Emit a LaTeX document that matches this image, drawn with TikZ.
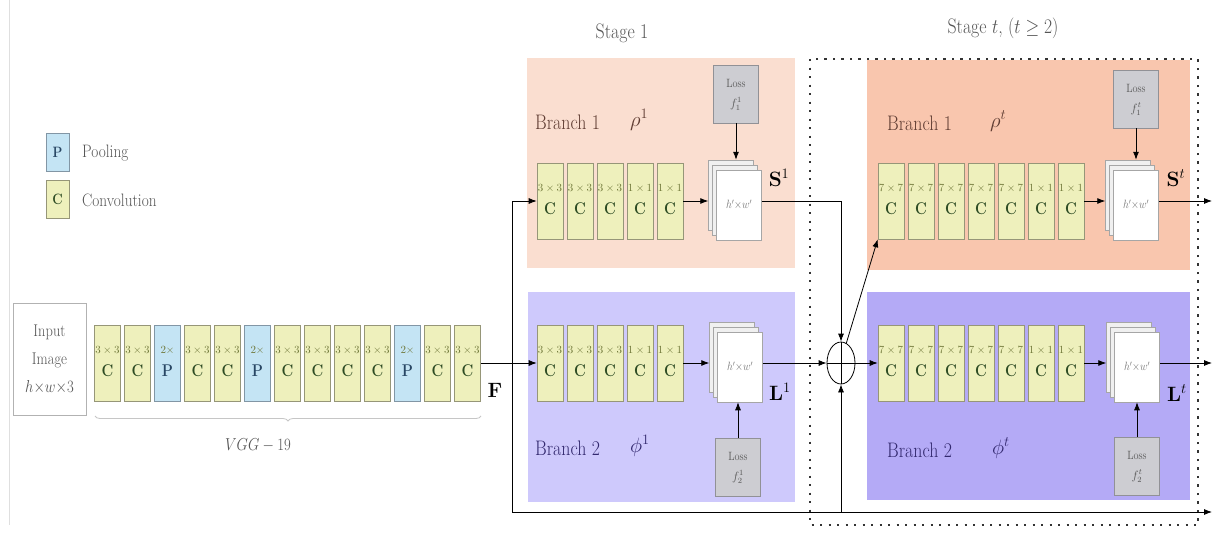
\documentclass[tikz,border=0pt]{standalone}
\usepackage{graphicx}
\usetikzlibrary{arrows.meta,decorations.pathreplacing,shapes.geometric,calc}
\definecolor{convf}{RGB}{238,240,188}
\definecolor{convd}{RGB}{150,150,120}
\definecolor{poolf}{RGB}{196,228,244}
\definecolor{poold}{RGB}{130,150,165}
\definecolor{lblc}{RGB}{110,118,55}
\definecolor{cgreen}{RGB}{45,75,35}
\definecolor{pblue}{RGB}{40,70,100}
\definecolor{pinkA}{RGB}{250,222,208}
\definecolor{pinkB}{RGB}{249,198,174}
\definecolor{lavA}{RGB}{206,201,252}
\definecolor{lavB}{RGB}{180,170,246}
\definecolor{lossf}{RGB}{205,205,210}
\definecolor{lossd}{RGB}{145,145,150}
\definecolor{brown}{RGB}{95,60,50}
\definecolor{navy}{RGB}{50,40,110}
\definecolor{txtg}{RGB}{85,85,85}
\newcommand\nx[1]{\scalebox{0.85}[1]{#1}}
\newcommand\blk[7]{%
  \node[#4] (#1) at (#2,#3) {};
  \node[lbl] at ([yshift=13pt]#1.center) {$#5$};
  \node[cl,text=#7] at ([yshift=-8pt]#1.center) {\nx{\textbf{#6}}};}
\newcommand\stk[3]{%
  \node[sheet] (#1a) at (#2-8,#3-10) {};
  \node[sheet] (#1b) at (#2-4,#3-5) {};
  \node[sheetf] (#1) at (#2,#3) {\nx{$h'{\times}w'$}};}
\begin{document}
\begin{tikzpicture}[x=1pt,y=-1pt,
  conv/.style={draw=convd,fill=convf,line width=0.6pt,minimum width=26pt,minimum height=76pt,inner sep=0pt},
  pool/.style={draw=poold,fill=poolf,line width=0.6pt,minimum width=26pt,minimum height=76pt,inner sep=0pt},
  lbl/.style={font=\fontsize{11}{12}\selectfont,text=lblc,inner sep=0pt},
  cl/.style={font=\fontsize{17}{18}\selectfont,inner sep=0pt},
  sheet/.style={draw=gray!70,fill=gray!12,line width=0.5pt,minimum width=45pt,minimum height=70pt,inner sep=0pt},
  sheetf/.style={draw=gray!70,fill=white,line width=0.5pt,minimum width=45pt,minimum height=70pt,inner sep=0pt,text=gray!90!black,font=\fontsize{12}{14}\selectfont},
  loss/.style={draw=lossd,fill=lossf,line width=0.6pt,minimum width=45pt,minimum height=58pt,inner sep=0pt},
  losst/.style={text=txtg,font=\fontsize{12}{14}\selectfont,inner sep=0pt},
  big/.style={font=\fontsize{21}{24}\selectfont,inner sep=0pt},
  legtxt/.style={font=\fontsize{18}{20}\selectfont,text=txtg,inner sep=0pt,anchor=west},
  arr/.style={-{Latex[length=8pt,width=6pt]},line width=0.8pt},
  ln/.style={line width=0.8pt},
  dotbox/.style={draw=black!80,line width=2.2pt,dash pattern=on 2.2pt off 6.3pt}
]
\useasboundingbox (0,0) rectangle (1214,533);
\fill[white] (0,0) rectangle (1214,533);
\draw[gray!25,line width=0.8pt] (9,0) -- (9,525);

% branch backgrounds
\fill[pinkA] (527,58) rectangle (795,268);
\fill[lavA] (528,292) rectangle (795,502);
\fill[pinkB] (867,60) rectangle (1190,270);
\fill[lavB] (867,292) rectangle (1190,500);
\draw[dotbox] (810,59) rectangle (1198,525);

% titles
\node[big,text=txtg] (st1) at (622,33) {\nx{Stage 1}};
\node[big,text=txtg] (stt) at (1003,28) {\nx{Stage $t$, $(t\geq 2)$}};

% legend
\node[draw=poold,fill=poolf,minimum width=23pt,minimum height=38pt,inner sep=0pt,font=\fontsize{15}{16}\selectfont,text=pblue] (legP) at (57.5,152.5) {\nx{\textbf{P}}};
\node[draw=convd,fill=convf,minimum width=23pt,minimum height=38pt,inner sep=0pt,font=\fontsize{15}{16}\selectfont,text=cgreen] (legC) at (57.5,199) {\nx{\textbf{C}}};
\node[legtxt] (legPt) at (82,153) {\nx{Pooling}};
\node[legtxt] (legCt) at (82,200) {\nx{Convolution}};

% input
\node[draw=gray!60,line width=0.8pt,minimum width=73pt,minimum height=112pt,align=center,text=txtg,font=\fontsize{17}{28}\selectfont] (inp) at (49.5,359) {\nx{Input}\\ \nx{Image}\\ \nx{$h{\times}w{\times}3$}};

% VGG blocks
\foreach \i/\s/\l/\t/\k in {0/conv/3\times3/C/cgreen,1/conv/3\times3/C/cgreen,2/pool/2\times/P/pblue,3/conv/3\times3/C/cgreen,4/conv/3\times3/C/cgreen,5/pool/2\times/P/pblue,6/conv/3\times3/C/cgreen,7/conv/3\times3/C/cgreen,8/conv/3\times3/C/cgreen,9/conv/3\times3/C/cgreen,10/pool/2\times/P/pblue,11/conv/3\times3/C/cgreen,12/conv/3\times3/C/cgreen}{
  \pgfmathsetmacro\xx{107.5+30*\i}
  \blk{v\i}{\xx}{363}{\s}{\l}{\t}{\k}
}
\draw[decorate,decoration={brace,mirror,amplitude=5pt},gray!45,line width=0.8pt] (95,416) -- (481,416);
\node[font=\fontsize{18}{20}\selectfont,text=txtg] (vgg) at (258,445) {\nx{$VGG-19$}};
\node[font=\fontsize{22}{24}\selectfont] (F) at (495,390) {$\mathbf{F}$};

% stage 1 blocks
\foreach \i/\l in {0/3\times3,1/3\times3,2/3\times3,3/1\times1,4/1\times1}{
  \pgfmathsetmacro\xx{550+30*\i}
  \blk{a\i}{\xx}{201}{conv}{\l}{C}{cgreen}
  \blk{b\i}{\xx}{363}{conv}{\l}{C}{cgreen}
}
% stage t blocks
\foreach \i/\l in {0/7\times7,1/7\times7,2/7\times7,3/7\times7,4/7\times7,5/1\times1,6/1\times1}{
  \pgfmathsetmacro\xx{891+30*\i}
  \blk{c\i}{\xx}{201}{conv}{\l}{C}{cgreen}
  \blk{d\i}{\xx}{363}{conv}{\l}{C}{cgreen}
}

% branch labels
\node[big,text=brown,anchor=west] (t11) at (535,122) {\nx{Branch 1}};
\node[big,text=brown,anchor=west] (r11) at (630,120) {$\rho^{1}$};
\node[big,text=navy,anchor=west] (t12) at (535,448) {\nx{Branch 2}};
\node[big,text=navy,anchor=west] (r12) at (630,446) {$\phi^{1}$};
\node[big,text=brown,anchor=west] (tt1) at (887,123) {\nx{Branch 1}};
\node[big,text=brown,anchor=west] (rt1) at (990,121) {$\rho^{t}$};
\node[big,text=navy,anchor=west] (tt2) at (887,450) {\nx{Branch 2}};
\node[big,text=navy,anchor=west] (rt2) at (992,448) {$\phi^{t}$};

% stacks
\stk{S1}{739}{205}
\stk{L1}{740}{367}
\stk{St}{1136}{205}
\stk{Lt}{1137}{367}

% losses
\node[loss] (LS1) at (736,94) {};
\node[loss] (LL1) at (738,467) {};
\node[loss] (LSt) at (1136,99) {};
\node[loss] (LLt) at (1137,466) {};
\foreach \n/\f in {LS1/f_1^1,LL1/f_2^1,LSt/f_1^t,LLt/f_2^t}{
  \node[losst] at ([yshift=11pt]\n.center) {\nx{Loss}};
  \node[losst] at ([yshift=-10pt]\n.center) {$\f$};
}

% output labels
\node[big] (lS1) at (779,178) {$\mathbf{S}^{1}$};
\node[big] (lL1) at (780,392) {$\mathbf{L}^{1}$};
\node[big] (lSt) at (1176,178) {$\mathbf{S}^{t}$};
\node[big] (lLt) at (1177,393) {$\mathbf{L}^{t}$};

% circle
\node[draw,ellipse,line width=0.8pt,minimum width=28pt,minimum height=42pt,inner sep=0pt] (ci) at (841,363) {};
\draw[ln] (ci.north) -- (ci.south) (ci.west) -- (ci.east);

% coordinates
\coordinate (sp) at (512,363);
\coordinate (outB) at (1212,512);
\coordinate (outS) at (1212,201);
\coordinate (outL) at (1212,363);

% connectors
\draw[arr] (v12.east) -- (b0.west);
\draw[arr] (sp) |- (a0.west);
\draw[arr] (sp) |- (outB);
\draw[arr] (a4.east) -- (S1a.west |- a4.east);
\draw[arr] (b4.east) -- (L1a.west |- b4.east);
\draw[arr] (c6.east) -- (Sta.west |- c6.east);
\draw[arr] (d6.east) -- (Lta.west |- d6.east);
\draw[arr] (LS1.south) -- (LS1.south |- S1a.north);
\draw[arr] (LSt.south) -- (LSt.south |- Sta.north);
\draw[arr] (LL1.north) -- (LL1.north |- L1.south);
\draw[arr] (LLt.north) -- (LLt.north |- Lt.south);
\draw[arr] (S1.east |- a4.east) -| (ci.north);
\draw[arr] (L1.east |- ci.west) -- (ci.west);
\draw[arr] (ci.south |- outB) -- (ci.south);
\draw[arr] (ci.east) -- (d0.west);
\draw[arr] (ci.75) -- (c0.south west);
\draw[arr] (St.east |- outS) -- (outS);
\draw[arr] (Lt.east |- outL) -- (outL);
\end{tikzpicture}
\end{document}
